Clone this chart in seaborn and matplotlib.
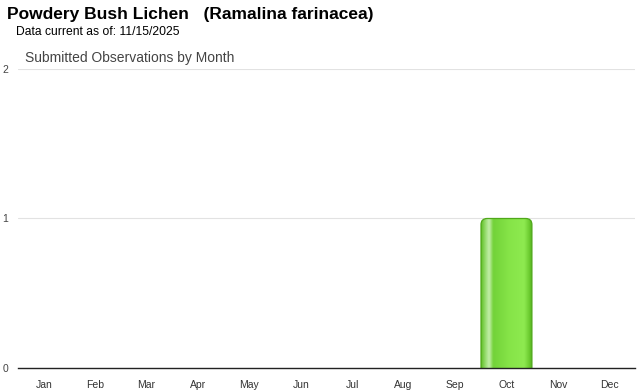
import numpy as np
import pandas as pd
import matplotlib
matplotlib.use("Agg")
import matplotlib.pyplot as plt
import seaborn as sns
from matplotlib.patches import FancyBboxPatch
from matplotlib.colors import LinearSegmentedColormap

months = ["Jan", "Feb", "Mar", "Apr", "May", "Jun", "Jul", "Aug", "Sep", "Oct", "Nov", "Dec"]
counts = [0, 0, 0, 0, 0, 0, 0, 0, 0, 1, 0, 0]
y_ticks = [0, 1, 2]
title = "Powdery Bush Lichen   (Ramalina farinacea)"
subtitle = "Data current as of: 11/15/2025"
chart_title = "Submitted Observations by Month"

sns.set_theme(style="white")
plt.rcParams["font.family"] = ["Liberation Sans", "DejaVu Sans"]

df = pd.DataFrame({"month": months, "count": counts})

fig = plt.figure(figsize=(6.4, 3.9), dpi=100)
ax = fig.add_axes([18 / 640, 1 - 368 / 390, (635 - 18) / 640, (368 - 69) / 390])

sns.barplot(data=df, x="month", y="count", order=months, color="#7ed63f",
            width=0.99, ax=ax, zorder=3)

ax.set_ylim(0, 2)
ax.set_xlim(-0.5, len(months) - 0.5)
ax.set_yticks(y_ticks)
ax.set_yticklabels([str(t) for t in y_ticks], color="#444444", fontsize=7.5)
ax.set_xticks(range(len(months)))
ax.set_xticklabels(months, color="#333333", fontsize=7.5)
ax.set_xlabel("")
ax.set_ylabel("")
ax.tick_params(axis="x", length=4, width=0.8, color="#cccccc", pad=5)
ax.tick_params(axis="y", length=0, pad=7)
ax.grid(axis="y", color="#e2e2e2", linewidth=0.8, zorder=0)
for s in ["top", "right", "left"]:
    ax.spines[s].set_visible(False)
ax.spines["bottom"].set_color("#222222")
ax.spines["bottom"].set_linewidth(1.0)
ax.spines["bottom"].set_zorder(5)

# gradient-filled rounded bars replacing the plain seaborn bars
grad = LinearSegmentedColormap.from_list(
    "g", [(0.0, "#5fbf25"), (0.10, "#9fe07a"), (0.16, "#c4eeab"), (0.24, "#72d238"),
          (0.55, "#86e448"), (0.85, "#8eea50"), (0.95, "#6ccc30"), (1.0, "#55b01c")])
gimg = np.linspace(0, 1, 256).reshape(1, -1)
px_x = (635 - 18) / 12.0  # pixels per x unit
px_y = (368 - 69) / 2.0   # pixels per y unit
for p in list(ax.patches):
    h = p.get_height()
    p.set_visible(False)
    if h <= 0:
        continue
    x0, w = p.get_x(), p.get_width()
    r = 0.12
    fb = FancyBboxPatch((x0 + r, -0.5), w - 2 * r, h + 0.5 - r * px_x / px_y,
                        boxstyle=f"round,pad={r}", mutation_aspect=px_x / px_y,
                        facecolor="none", edgecolor="#4fa81a", linewidth=0.9, zorder=4)
    ax.add_patch(fb)
    im = ax.imshow(gimg, cmap=grad, aspect="auto", extent=[x0, x0 + w, 0, h],
                   zorder=3, interpolation="bicubic")
    im.set_clip_path(fb)
ax.set_xlim(-0.5, len(months) - 0.5)
ax.set_ylim(0, 2)

fig.text(7 / 640, 1 - 15 / 390, title, fontsize=12.5, fontweight="bold",
         color="#000000", va="center", ha="left")
fig.text(16 / 640, 1 - 32 / 390, subtitle, fontsize=8.7, color="#000000",
         va="center", ha="left")
fig.text(25 / 640, 1 - 58 / 390, chart_title, fontsize=10, color="#444444",
         va="center", ha="left")

fig.savefig("out.png", dpi=100)
